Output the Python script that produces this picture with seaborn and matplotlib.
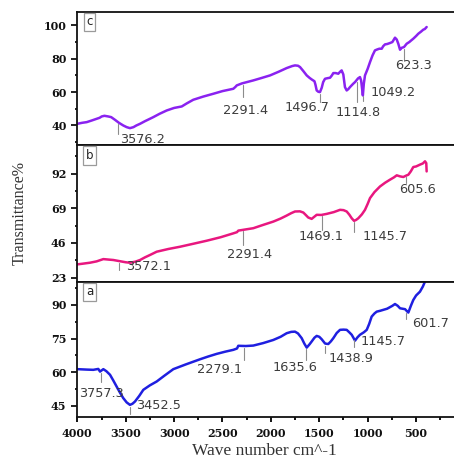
import numpy as np
import pandas as pd
import matplotlib
matplotlib.use("Agg")
import matplotlib.pyplot as plt
from matplotlib.ticker import FixedLocator
import seaborn as sns

# ---- FTIR spectra (wavenumber in cm^-1, transmittance in %) ----
c_wn = [4000, 3950, 3903, 3850, 3800, 3770, 3748, 3720, 3680, 3650, 3611, 3570,
        3525, 3490, 3456, 3420, 3390, 3352, 3300, 3250, 3215, 3150, 3076, 3000,
        2921, 2870, 2802, 2700, 2595, 2500, 2388, 2365, 2353, 2300, 2182, 2100,
        2009, 1920, 1837, 1780, 1751, 1720, 1699, 1665, 1630, 1600, 1579, 1550,
        1540, 1527, 1510, 1493, 1475, 1460, 1441, 1410, 1389, 1370, 1355, 1330,
        1304, 1285, 1269, 1252, 1235, 1217, 1200, 1183, 1150, 1131, 1100, 1080,
        1068, 1058, 1050, 1040, 1028, 1000, 976, 950, 925, 900, 880, 855, 840,
        821, 800, 770, 745, 718, 700, 684, 666, 650, 625, 597, 570, 550, 529,
        500, 477, 450, 426, 410, 391]
c_tr = [41.0, 41.6, 42.0, 43.0, 44.0, 44.6, 45.4, 45.8, 45.4, 45.0, 43.4, 41.6,
        40.0, 39.0, 38.4, 39.0, 40.0, 41.0, 42.6, 44.0, 45.0, 47.0, 49.0, 50.5,
        51.4, 53.2, 55.4, 57.3, 59.0, 60.6, 62.0, 63.2, 64.0, 65.2, 67.0, 68.4,
        70.0, 72.2, 74.4, 75.6, 76.0, 75.8, 75.0, 72.6, 70.0, 68.5, 67.6, 66.5,
        64.5, 61.0, 60.2, 60.0, 62.6, 66.0, 68.0, 68.4, 68.6, 70.0, 71.4, 71.4,
        71.0, 72.2, 73.0, 70.6, 63.0, 61.0, 61.8, 63.0, 65.0, 66.0, 68.2, 69.0,
        67.0, 62.0, 58.0, 65.0, 70.0, 74.0, 78.0, 82.0, 85.0, 85.6, 86.0, 86.0, 87.5,
        88.6, 88.8, 89.4, 90.0, 92.6, 91.5, 89.0, 85.4, 86.5, 87.0, 89.0, 90.0, 91.0, 92.0,
        93.6, 95.0, 96.2, 97.4, 97.8, 99.0]

b_wn = [4000, 3950, 3869, 3800, 3731, 3680, 3628, 3560, 3500, 3456, 3400, 3352,
        3300, 3250, 3180, 3060, 2939, 2800, 2663, 2520, 2388, 2350, 2337, 2260,
        2182, 2080, 1975, 1900, 1837, 1790, 1751, 1700, 1665, 1640, 1614, 1579,
        1550, 1527, 1480, 1424, 1350, 1286, 1250, 1217, 1190, 1165, 1141, 1120,
        1097, 1060, 1028, 1000, 976, 930, 873, 820, 770, 730, 700, 665, 632, 600,
        580, 555, 529, 500, 460, 430, 408, 395, 391]
b_tr = [31.8, 32.2, 32.9, 33.8, 35.3, 35.0, 34.7, 33.9, 33.2, 32.9, 33.6, 34.7,
        36.5, 38.0, 40.2, 42.0, 43.5, 45.5, 47.5, 49.8, 52.4, 53.2, 54.2, 55.0,
        55.8, 58.0, 60.2, 62.2, 64.2, 65.8, 66.9, 67.0, 66.2, 64.6, 62.9, 62.0,
        63.5, 64.7, 64.6, 65.3, 66.5, 68.0, 67.8, 66.9, 64.8, 62.4, 60.7, 61.3,
        62.4, 65.0, 68.0, 72.0, 75.8, 79.8, 83.5, 86.0, 88.0, 89.5, 90.9, 90.2, 89.8, 90.8,
        91.3, 93.5, 96.4, 96.8, 98.0, 98.8, 100.2, 99.0, 93.5]

a_wn = [4000, 3900, 3835, 3783, 3765, 3750, 3731, 3700, 3662, 3630, 3593, 3560,
        3525, 3490, 3456, 3430, 3404, 3360, 3318, 3250, 3180, 3100, 3008, 2880,
        2732, 2650, 2560, 2470, 2388, 2350, 2337, 2260, 2182, 2080, 1975, 1900,
        1837, 1790, 1751, 1720, 1682, 1655, 1630, 1600, 1579, 1550, 1527, 1500,
        1475, 1440, 1407, 1380, 1355, 1320, 1286, 1250, 1217, 1190, 1165, 1131,
        1105, 1080, 1040, 1010, 985, 959, 930, 907, 870, 839, 800, 770, 745, 718,
        690, 666, 640, 614, 590, 580, 555, 529, 500, 460, 430, 408, 395]
a_tr = [61.4, 61.2, 61.1, 61.5, 60.3, 60.8, 61.4, 60.5, 58.9, 56.5, 53.6, 51.0,
        48.5, 46.6, 45.5, 46.0, 47.0, 49.5, 52.2, 54.2, 55.9, 58.5, 61.4, 63.5,
        65.8, 67.0, 68.2, 69.2, 70.0, 70.6, 71.8, 71.7, 71.9, 73.0, 74.4, 75.8,
        77.4, 78.0, 78.1, 77.3, 75.2, 72.8, 71.0, 72.5, 73.7, 75.4, 76.2, 75.8,
        74.7, 72.8, 72.6, 73.8, 75.2, 77.5, 78.9, 79.0, 78.9, 77.8, 76.7, 74.1,
        75.6, 76.7, 77.8, 78.9, 81.5, 84.8, 86.2, 87.0, 87.4, 87.8, 88.3, 89.0, 89.6, 90.4,
        89.6, 88.5, 88.3, 88.1, 87.0, 86.6, 89.5, 92.2, 94.2, 95.9, 98.2, 100.4, 101.5]

# ---- labelled band positions (cm^-1) ----
c_peaks = [3576.2, 2291.4, 1496.7, 1114.8, 1049.2, 623.3]
b_peaks = [3572.1, 2291.4, 1469.1, 1145.7, 605.6]
a_peaks = [3757.3, 3452.5, 2279.1, 1635.6, 1438.9, 1145.7, 601.7]

# ---- axis ticks ----
x_major = [4000, 3500, 3000, 2500, 2000, 1500, 1000, 500]
x_minor = [3750, 3250, 2750, 2250, 1750, 1250, 750, 250]
c_yticks = [40, 60, 80, 100]
b_yticks = [23, 46, 69, 92]
a_yticks = [45, 60, 75, 90]

# ---- annotation layout: marker bottom, label x, label y (data units) ----
c_layout = dict(bottom=[34.6, 57, 54, 54, 57, 79],
                tx=[3328, 2257, 1622, 1097, 742, 532],
                ty=[31.8, 48.7, 50.7, 48.0, 59.6, 75.8])
b_layout = dict(bottom=[28.0, 44.7, 54.7, 53.5, 85.8],
                tx=[3261, 2216, 1485, 821, 486],
                ty=[30.3, 38.2, 50.0, 50.0, 81.3])
a_layout = dict(bottom=[55.9, 42.1, 65.5, 65.5, 69.2, 71.4, 84.0],
                tx=[3755, 3158, 2526, 1746, 1175, 839, 346],
                ty=[50.7, 45.1, 61.1, 62.1, 66.1, 73.7, 81.8])

sns.set_style("ticks")
plt.rcParams.update({
    "axes.edgecolor": "#111111",
    "axes.linewidth": 1.3,
    "xtick.color": "#111111",
    "ytick.color": "#111111",
    "xtick.direction": "out",
    "ytick.direction": "out",
})

W, H = 454, 461
fig = plt.figure(figsize=(W / 100, H / 100), dpi=100)
fig.patch.set_facecolor("white")


def box(top, bottom):
    left, right = 77.3, 464.5
    return [left / W, (H - bottom) / H, (right - left) / W, (bottom - top) / H]


panels = [
    dict(tag="c", wn=c_wn, tr=c_tr, color="#8a22f0", ylim=(28, 108),
         yt=c_yticks, step=10, peaks=c_peaks, lay=c_layout, pos=box(12, 145.5)),
    dict(tag="b", wn=b_wn, tr=b_tr, color="#e8177f", ylim=(20.1, 110.7),
         yt=b_yticks, step=11.5, peaks=b_peaks, lay=b_layout, pos=box(145.5, 282)),
    dict(tag="a", wn=a_wn, tr=a_tr, color="#1f1fe0", ylim=(40.1, 100.2),
         yt=a_yticks, step=7.5, peaks=a_peaks, lay=a_layout, pos=box(282, 417)),
]

tick_font = dict(family="DejaVu Serif", weight="bold", size=8)
ann_font = dict(family="DejaVu Sans", size=9.3, color="#3c3c3c")

for i, p in enumerate(panels):
    ax = fig.add_axes(p["pos"])
    df = pd.DataFrame({"wn": p["wn"], "tr": p["tr"]})
    sns.lineplot(data=df, x="wn", y="tr", sort=False, ax=ax,
                 color=p["color"], linewidth=1.8, estimator=None)
    ax.set_xlim(4000, 0)
    ax.set_ylim(*p["ylim"])
    ax.set_xlabel("")
    ax.set_ylabel("")
    ax.spines["right"].set_visible(False)

    ax.yaxis.set_major_locator(FixedLocator(p["yt"]))
    minors = [v + p["step"] for v in p["yt"]] + [p["yt"][0] - p["step"]]
    ax.yaxis.set_minor_locator(FixedLocator(minors))
    ax.set_yticklabels([str(v) for v in p["yt"]], fontdict=tick_font)
    ax.tick_params(axis="y", which="major", length=4.3, width=1.3, pad=3.5)
    ax.tick_params(axis="y", which="minor", length=1.8, width=1.3)

    if i == len(panels) - 1:
        ax.xaxis.set_major_locator(FixedLocator(x_major))
        ax.xaxis.set_minor_locator(FixedLocator(x_minor))
        ax.set_xticklabels([str(v) for v in x_major], fontdict=tick_font)
        ax.tick_params(axis="x", which="major", length=3.5, width=1.4, pad=4.5)
        ax.tick_params(axis="x", which="minor", length=1.8, width=1.4)
    else:
        ax.tick_params(axis="x", which="both", bottom=False, labelbottom=False)

    # peak markers and their wavenumber labels
    wn_r = np.array(p["wn"])[::-1]
    tr_r = np.array(p["tr"])[::-1]
    lay = p["lay"]
    for k, v in enumerate(p["peaks"]):
        top = np.interp(v, wn_r, tr_r) - 1.0
        bot = min(lay["bottom"][k], top - 3)
        ax.plot([v, v], [top, bot], color="#8c8c8c", linewidth=0.8)
        ax.text(lay["tx"][k], lay["ty"][k], f"{v:.1f}", ha="center",
                va="center", **ann_font)

    ax.text(0.032, 0.927, p["tag"], transform=ax.transAxes, ha="center",
            va="center", family="DejaVu Sans", size=8.5, color="#222222",
            bbox=dict(boxstyle="square,pad=0.22", facecolor="white",
                      edgecolor="#9a9a9a", linewidth=0.9))

fig.text(20 / W, (H - 213) / H, "Transmittance%", rotation=90, ha="center",
         va="center", family="Liberation Serif", size=11.5, color="#333333")
fig.text(264 / W, (H - 451) / H, "Wave number cm^-1", ha="center",
         va="center", family="Liberation Serif", size=12.5, color="#333333")

fig.savefig("out.png", dpi=100, facecolor="white")
